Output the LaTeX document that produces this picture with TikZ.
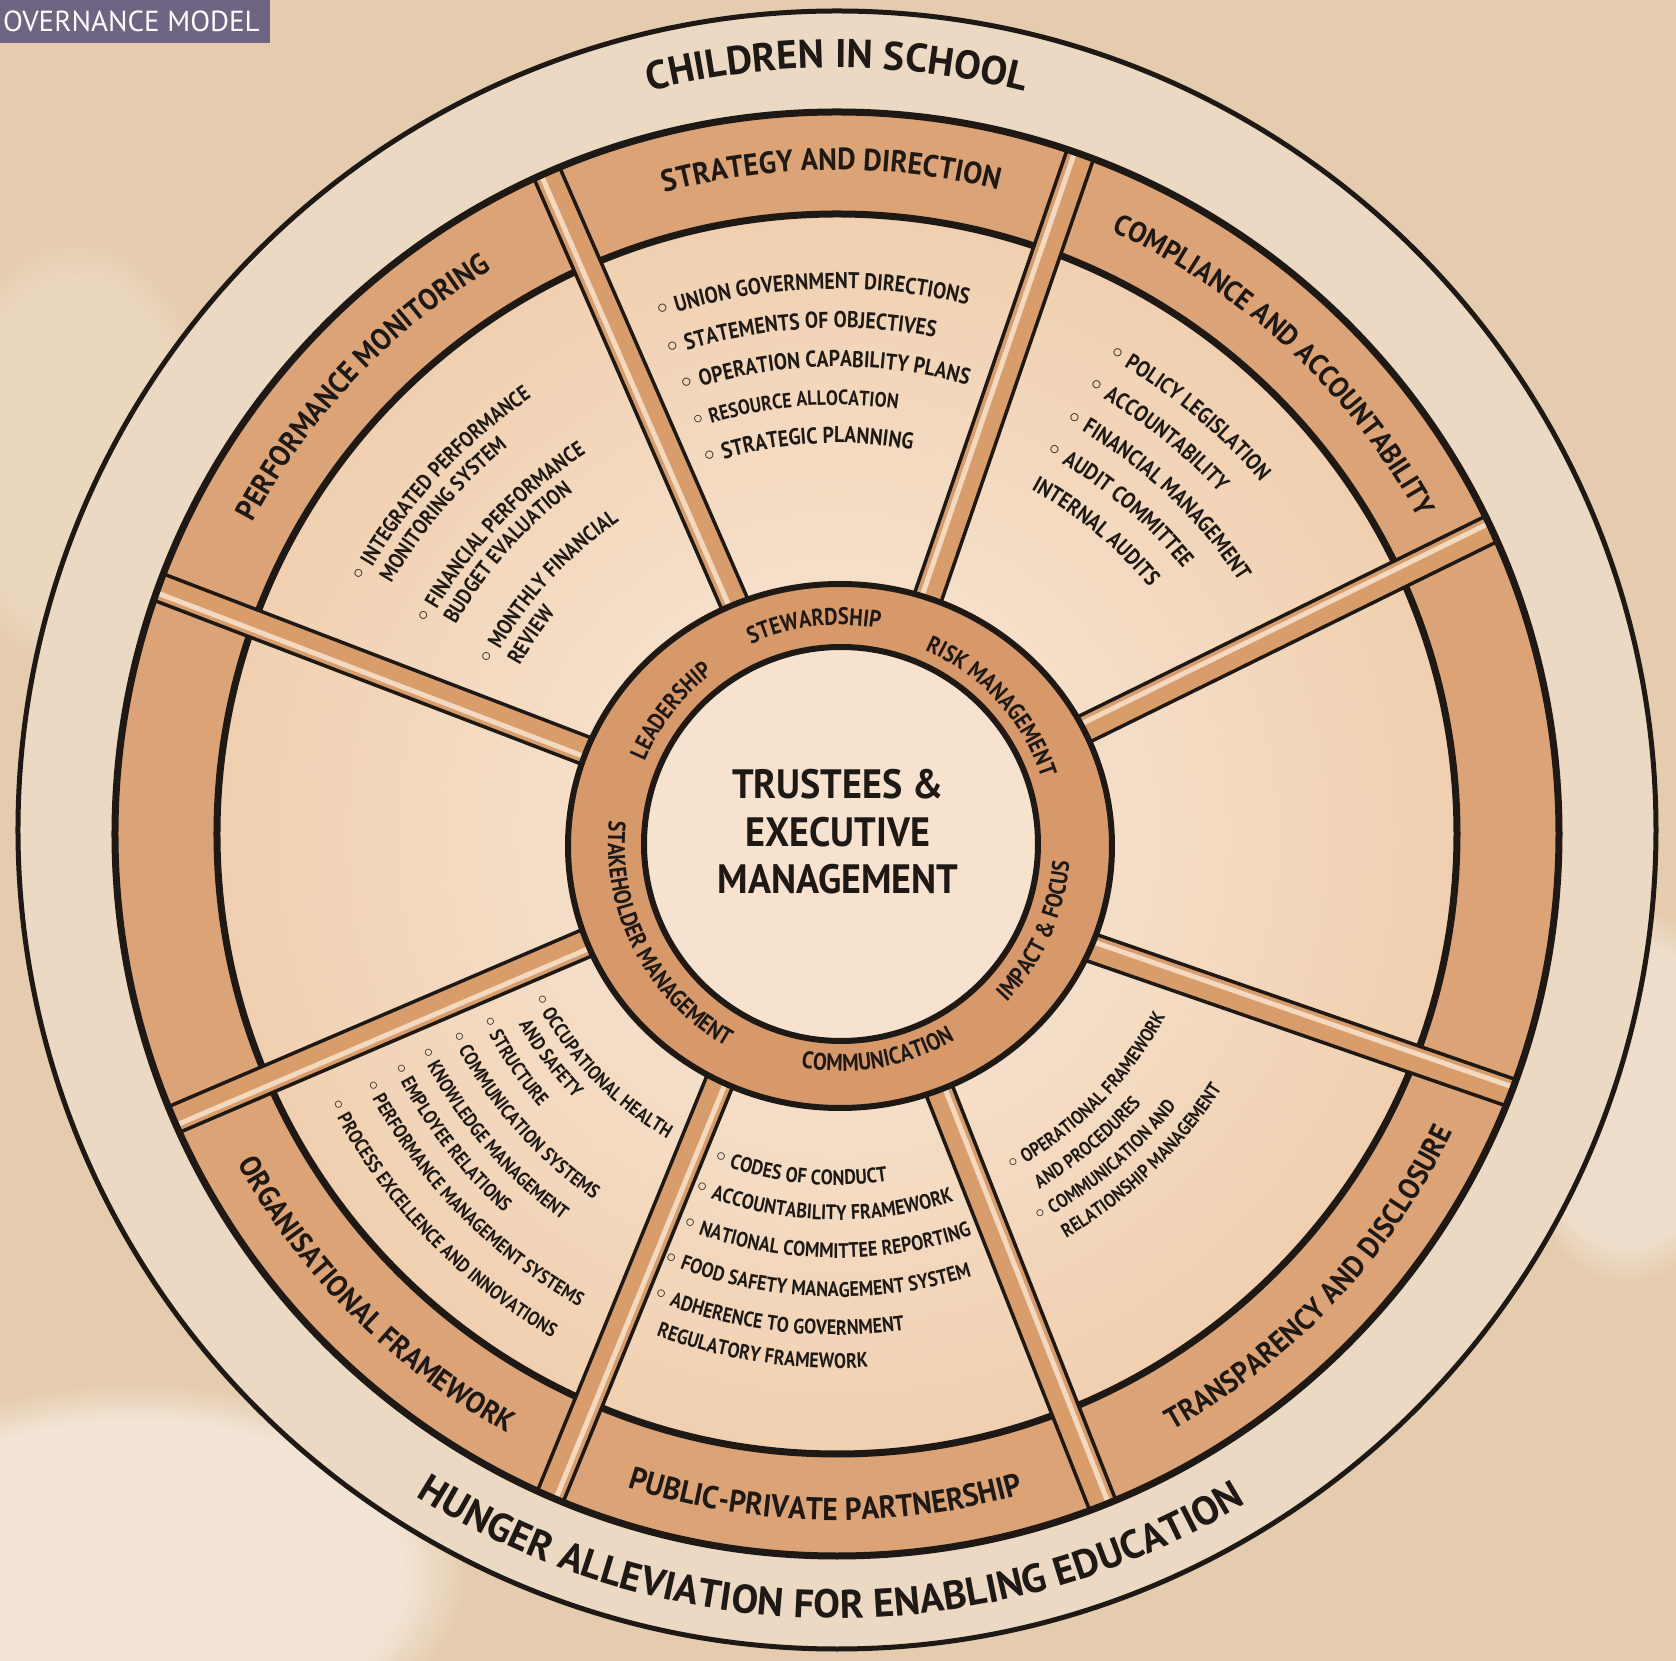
\documentclass[tikz,border=0pt]{standalone}
\usepackage{fontspec}
\usetikzlibrary{decorations.text,calc,fadings}
\newfontfamily\hand{PT Sans}
\newfontfamily\handr{PT Sans}[FakeStretch=0.93]
\newfontfamily\handc{PT Sans}[FakeStretch=0.86]
\newfontfamily\dejavu{DejaVu Sans}
\newcommand\bul{{\dejavu\char"25E6}}
\def\fOut{\hand\bfseries\fontsize{40}{42}\selectfont}
\def\fStr{\handr\bfseries\fontsize{30.7}{34}\selectfont}
\def\fRim{\handr\bfseries\fontsize{29.9}{34}\selectfont}
\def\fRimS{\handr\bfseries\fontsize{29}{34}\selectfont}
\def\fRimL{\handr\bfseries\fontsize{31.6}{34}\selectfont}
\def\fHub{\handc\bfseries\fontsize{24}{26}\selectfont}
\def\fTop{\handc\bfseries\fontsize{22.9}{24}\selectfont}
\def\fTopS{\handc\bfseries\fontsize{20.8}{24}\selectfont}
\def\fComp{\handc\bfseries\fontsize{22.7}{24}\selectfont}
\def\fPerf{\handc\bfseries\fontsize{21.9}{24}\selectfont}
\def\fOrg{\handc\bfseries\fontsize{19.7}{20}\selectfont}
\def\fPub{\handc\bfseries\fontsize{21}{24}\selectfont}
\def\fTra{\handc\bfseries\fontsize{19.4}{20}\selectfont}
\def\fCen{\handr\bfseries\fontsize{41}{47.5}\selectfont}
\def\fTitle{\hand\fontsize{29}{30}\selectfont}
\definecolor{ink}{HTML}{1E1915}
\definecolor{bgc}{HTML}{E6CCAE}
\definecolor{ringc}{HTML}{ECD9C3}
\definecolor{titlec}{HTML}{6E6583}
\definecolor{rimc}{HTML}{DBA376}
\definecolor{secA}{HTML}{F9EADB}
\definecolor{secB}{HTML}{F0D0B0}
\definecolor{spokec}{HTML}{D99D6C}
\definecolor{spokel}{HTML}{F3D9BF}
\definecolor{hubc}{HTML}{D8996A}
\definecolor{hubin}{HTML}{F6E2CF}
% text along arcs
\newcommand\cwC[5]{\path[decorate,decoration={text along path,text align=center,text color=ink,text={|#4|#5}}] ([shift={(#1)}]#3+75:#2) arc[start angle=#3+75,end angle=#3-75,radius=#2];}
\newcommand\ccwC[5]{\path[decorate,decoration={text along path,text align=center,text color=ink,text={|#4|#5}}] ([shift={(#1)}]#3-75:#2) arc[start angle=#3-75,end angle=#3+75,radius=#2];}
\newcommand\cwL[5]{\path[decorate,decoration={text along path,text align=left,text color=ink,text={|#4|#5}}] ([shift={(#1)}]#3:#2) arc[start angle=#3,end angle=#3-85,radius=#2];}
\newcommand\ccwL[5]{\path[decorate,decoration={text along path,text align=left,text color=ink,text={|#4|#5}}] ([shift={(#1)}]#3:#2) arc[start angle=#3,end angle=#3+85,radius=#2];}
\newcommand\spoke[2]{%
 \coordinate (si) at ([shift={(3,-10)}]#1:230pt);
 \coordinate (so) at (#2:722pt);
 \fill[spokec] ($(si)!14pt!90:(so)$) -- ($(so)!14pt!-90:(si)$) -- ($(so)!14pt!90:(si)$) -- ($(si)!14pt!-90:(so)$) -- cycle;
 \draw[spokel,line width=5pt] ($(si)!6pt!90:(so)$) -- ($(so)!6pt!-90:(si)$);
 \draw[ink,line width=3.5pt] ($(si)!14pt!90:(so)$) -- ($(so)!14pt!-90:(si)$);
 \draw[ink,line width=3.5pt] ($(si)!14pt!-90:(so)$) -- ($(so)!14pt!90:(si)$);
}
\begin{document}
\begin{tikzpicture}[x=1pt,y=1pt]
\useasboundingbox (-837,-827) rectangle (839,834);
\fill[bgc] (-837,-827) rectangle (839,834);
% watercolour washes
\fill[white,opacity=0.5,path fading=circle with fuzzy edge 20 percent] (-700,-740) ellipse [x radius=330pt,y radius=190pt];
\fill[white,opacity=0.35,path fading=circle with fuzzy edge 20 percent] (790,-260) ellipse [x radius=120pt,y radius=190pt];
\fill[white,opacity=0.2,path fading=circle with fuzzy edge 20 percent] (-760,380) ellipse [x radius=140pt,y radius=220pt];
% title tab
\fill[titlec] (-837,791) rectangle (-567,834);
\node[anchor=west,inner sep=0,text=white,font=\fTitle] (title) at (-834,813) {OVERNANCE MODEL};
% outer ring
\fill[ringc] (0,4) circle (819pt);
\draw[ink,line width=5pt] (0,4) circle (819pt);
% wheel rim and sectors
\fill[rimc] (0,0) circle (722pt);
\shade[inner color=secA,outer color=secB] (0,0) circle (620pt);
\draw[ink,line width=7pt] (0,0) circle (620pt);
% spokes
\spoke{25}{25}
\spoke{70.3}{70.3}
\spoke{113.7}{113.7}
\spoke{160}{160}
\spoke{201}{203.3}
\spoke{242.4}{246.6}
\spoke{292}{291.6}
\spoke{337}{339}
\draw[ink,line width=7pt] (0,0) circle (722pt);
% hub
\fill[hubc] (3,-12) ellipse [x radius=272pt, y radius=262pt];
\draw[ink,line width=6pt] (3,-12) ellipse [x radius=272pt, y radius=262pt];
\fill[hubin] (4,-10) circle (197pt);
\draw[ink,line width=6pt] (4,-10) circle (197pt);
\node[font=\fCen,text=ink,align=center,inner sep=0] (centre) at (1,2) {TRUSTEES\hspace{0.25em}\&\\EXECUTIVE\\MANAGEMENT};
% outer texts
\cwC{0,4}{762pt}{90}{\fOut}{CHILDREN IN SCHOOL}
\ccwC{0,4}{788pt}{-90.5}{\fOut}{HUNGER ALLEVIATION FOR ENABLING EDUCATION}
% rim texts
\cwC{0,0}{664pt}{90.5}{\fStr}{STRATEGY AND DIRECTION}
\cwC{0,0}{662pt}{47}{\fRimS}{COMPLIANCE AND ACCOUNTABILITY}
\cwC{0,0}{662pt}{136.7}{\fRim}{PERFORMANCE MONITORING}
\ccwC{0,0}{684pt}{-43.2}{\fRim}{TRANSPARENCY AND DISCLOSURE}
\ccwC{0,0}{686pt}{-91}{\fRimL}{PUBLIC-PRIVATE PARTNERSHIP}
\ccwC{0,0}{684pt}{225}{\fRim}{ORGANISATIONAL FRAMEWORK}
% hub texts
\cwC{4,-10}{219pt}{97}{\fHub}{STEWARDSHIP}
\cwC{4,-10}{211pt}{42.4}{\fHub}{RISK MANAGEMENT}
\cwC{4,-10}{213pt}{142}{\fHub}{LEADERSHIP}
\ccwC{4,-10}{229pt}{-24}{\fHub}{IMPACT {\&} FOCUS}
\ccwC{4,-10}{227pt}{-80}{\fHub}{COMMUNICATION}
\ccwC{4,-10}{233pt}{207.4}{\fHub}{STAKEHOLDER MANAGEMENT}
% strategy list
\cwL{0,-10}{555pt}{108.8}{\fTop}{{\bul} UNION GOVERNMENT DIRECTIONS}
\cwL{0,-10}{516pt}{109.1}{\fTop}{{\bul} STATEMENTS OF OBJECTIVES}
\cwL{0,-10}{477pt}{108.9}{\fTop}{{\bul} OPERATION CAPABILITY PLANS}
\cwL{0,-10}{439pt}{109}{\fTopS}{{\bul} RESOURCE ALLOCATION}
\cwL{0,-10}{401pt}{109.2}{\fTop}{{\bul} STRATEGIC PLANNING}
% compliance list
\cwL{0,-10}{557pt}{61}{\fComp}{{\bul} POLICY LEGISLATION}
\cwL{0,-10}{519pt}{61.3}{\fComp}{{\bul} ACCOUNTABILITY}
\cwL{0,-10}{480pt}{61.7}{\fComp}{{\bul} FINANCIAL MANAGEMENT}
\cwL{0,-10}{442pt}{62}{\fComp}{{\bul} AUDIT COMMITTEE}
\cwL{0,-10}{404pt}{61.3}{\fComp}{INTERNAL AUDITS}
% performance list
\cwL{0,-10}{541pt}{151.2}{\fPerf}{{\bul} INTEGRATED PERFORMANCE}
\cwL{0,-10}{516pt}{149.7}{\fPerf}{MONITORING SYSTEM}
\cwL{0,-10}{464pt}{151.9}{\fPerf}{{\bul} FINANCIAL PERFORMANCE}
\cwL{0,-10}{440pt}{150.1}{\fPerf}{BUDGET EVALUATION}
\cwL{0,-10}{389pt}{152.8}{\fPerf}{{\bul} MONTHLY FINANCIAL}
\cwL{0,-10}{364pt}{150.7}{\fPerf}{REVIEW}
% organisational list
\ccwL{0,-10}{340pt}{206.8}{\fOrg}{{\bul} OCCUPATIONAL HEALTH}
\ccwL{0,-10}{366pt}{209.6}{\fOrg}{AND SAFETY}
\ccwL{0,-10}{397pt}{206.3}{\fOrg}{{\bul} STRUCTURE}
\ccwL{0,-10}{431pt}{206.2}{\fOrg}{{\bul} COMMUNICATION SYSTEMS}
\ccwL{0,-10}{466pt}{206.3}{\fOrg}{{\bul} KNOWLEDGE MANAGEMENT}
\ccwL{0,-10}{497pt}{206.6}{\fOrg}{{\bul} EMPLOYEE RELATIONS}
\ccwL{0,-10}{530pt}{206.9}{\fOrg}{{\bul} PERFORMANCE MANAGEMENT SYSTEMS}
\ccwL{0,-10}{570pt}{207}{\fOrg}{{\bul} PROCESS EXCELLENCE AND INNOVATIONS}
% public list
\ccwL{0,-10}{341pt}{248.5}{\fPub}{{\bul} CODES OF CONDUCT}
\ccwL{0,-10}{376pt}{247.6}{\fPub}{{\bul} ACCOUNTABILITY FRAMEWORK}
\ccwL{0,-10}{414pt}{247.9}{\fPub}{{\bul} NATIONAL COMMITTEE REPORTING}
\ccwL{0,-10}{453pt}{247.4}{\fPub}{{\bul} FOOD SAFETY MANAGEMENT SYSTEM}
\ccwL{0,-10}{491pt}{247.9}{\fPub}{{\bul} ADHERENCE TO GOVERNMENT}
\ccwL{0,-10}{524pt}{249.8}{\fPub}{REGULATORY FRAMEWORK}
% transparency list
\ccwL{0,-10}{371pt}{-62}{\fTra}{{\bul} OPERATIONAL FRAMEWORK}
\ccwL{0,-10}{400pt}{-59.6}{\fTra}{AND PROCEDURES}
\ccwL{0,-10}{429pt}{-62}{\fTra}{{\bul} COMMUNICATION AND}
\ccwL{0,-10}{456pt}{-59.8}{\fTra}{RELATIONSHIP MANAGEMENT}
\end{tikzpicture}
\end{document}
